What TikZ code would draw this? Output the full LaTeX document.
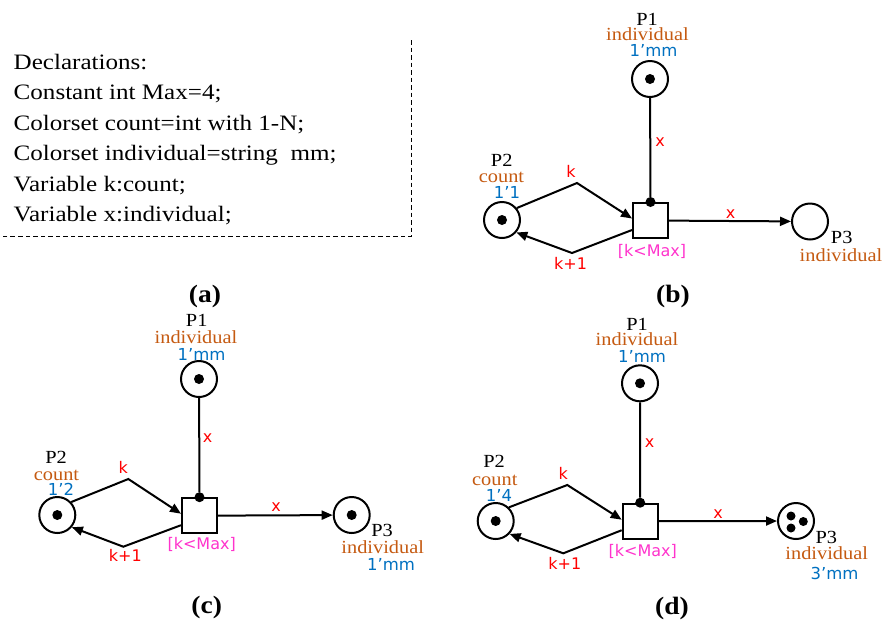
\documentclass[tikz,border=0pt]{standalone}
\usepackage{fontspec}
\setmainfont{Liberation Serif}
\newfontfamily\declf{Liberation Serif}[FakeStretch=1.14]
\newfontfamily\lblf{Liberation Serif}[FakeStretch=1.1]
\newfontfamily\sansf{DejaVu Sans}
\usetikzlibrary{arrows.meta}
\definecolor{brn}{HTML}{C55A11}
\definecolor{blu}{HTML}{0070C0}
\definecolor{redi}{HTML}{FF0000}
\definecolor{magi}{HTML}{FF33CC}
\begin{document}
\begin{tikzpicture}[x=1pt,y=-1pt,
  place/.style={circle,draw,line width=2pt,minimum size=36pt,inner sep=0pt},
  trans/.style={rectangle,draw,line width=2pt,minimum size=35pt,inner sep=0pt},
  token/.style={circle,fill,minimum size=10pt,inner sep=0pt},
  smtoken/.style={circle,fill,minimum size=9pt,inner sep=0pt},
  rdot/.style={circle,fill,minimum size=10pt,inner sep=0pt},
  arcl/.style={line width=2pt},
  arr/.style={line width=2pt,-{Triangle[length=11pt,width=9pt]}},
  pname/.style={inner sep=0pt,anchor=base,text depth=0pt,font=\lblf\fontsize{18.5}{18.5}\selectfont},
  ptype/.style={pname,text=brn},
  pmark/.style={inner sep=0pt,anchor=base,text depth=0pt,font=\sansf\fontsize{16.5}{16.5}\selectfont,text=blu},
  ainsc/.style={inner sep=0pt,anchor=base,font=\sansf\fontsize{16}{16}\selectfont,text=redi},
  guard/.style={ainsc,text=magi},
  decl/.style={inner sep=0pt,anchor=base west,font=\declf\fontsize{22}{22}\selectfont},
  panel/.style={inner sep=0pt,anchor=base,font=\lblf\bfseries\fontsize{25}{25}\selectfont},
  dashbox/.style={line width=1pt,dash pattern=on 4.5pt off 3pt}
]
\useasboundingbox (0,0) rectangle (886,625);

% ---------------- panel (a)
\coordinate (aTR) at (411.5,40);
\coordinate (aBR) at (411.5,236);
\coordinate (aBL) at (0,236);
\draw[dashbox] (aTR) -- (aBR) -- (aBL);
\node[decl] (d1) at (13.5,69.3) {Declarations:};
\node[decl] (d2) at (13.5,99.8) {Constant int Max=4;};
\node[decl] (d3) at (13.5,130.3) {Colorset count=int with 1-N;};
\node[decl] (d4) at (13.5,160.8) {Colorset individual=string\ \ mm;};
\node[decl] (d5) at (13.5,191.3) {Variable k:count;};
\node[decl] (d6) at (13.5,221.8) {Variable x:individual;};
\node[panel] (la) at (205,302) {(a)};

% ---------------- panel (b)
\node[trans] (bT) at (650.5,220.5) {};
\node[place] (b1) at (650,79) {};
\node[token] (b1t) at (650,79) {};
\node[place] (b2) at (502,220) {};
\node[token] (b2t) at (502,220) {};
\node[place] (b3) at (810,221.5) {};
\node[rdot] (bRd) at (bT.north) {};
\draw[arcl] (b1) -- (bRd);
\coordinate (bk) at (577,183);
\coordinate (bk1) at (572,253);
\draw[arr] (b2.39) -- (bk) -- ([yshift=2pt]bT.west);
\draw[arr] ([yshift=-9.5pt]bT.west) -- (bk1) -- (b2.-41);
\draw[arr] (bT) -- (b3);
\node[pname] (bn1) at (647,25) {P1};
\node[ptype] (bty1) at (647.5,40.5) {individual};
\node[pmark] (bm1) at (653.5,56) {1’mm};
\node[pname] (bn2) at (501.7,166.7) {P2};
\node[ptype] (bty2) at (501.5,182.3) {count};
\node[pmark] (bm2) at (507,198.3) {1’1};
\node[pname] (bn3) at (841.7,243.3) {P3};
\node[ptype] (bty3) at (841,261) {individual};
\node[ainsc] (bx1) at (660,146) {x};
\node[ainsc] (bx2) at (730.7,218.5) {x};
\node[ainsc] (bk_l) at (571,177.7) {k};
\node[ainsc] (bk1_l) at (570.5,269) {k+1};
\node[guard] (bg) at (652,256.3) {[k<Max]};
\node[panel] (lb) at (673,302) {(b)};

% ---------------- panel (c)
\node[trans] (cT) at (199.5,515.7) {};
\node[place] (c1) at (199,379) {};
\node[token] (c1t) at (199,379) {};
\node[place] (c2) at (57.3,515) {};
\node[token] (c2t) at (57.3,515) {};
\node[place] (c3) at (351.7,515) {};
\node[token] (c3t) at (351.7,515) {};
\node[rdot] (cRd) at (cT.north) {};
\draw[arcl] (c1) -- (cRd);
\coordinate (ck) at (128.3,479);
\coordinate (ck1) at (123.3,546.7);
\draw[arr] (c2.43) -- (ck) -- ([yshift=2pt]cT.west);
\draw[arr] ([yshift=-9.5pt]cT.west) -- (ck1) -- (c2.-40);
\draw[arr] (cT) -- (c3);
\node[pname] (cn1) at (196.7,326.7) {P1};
\node[ptype] (cty1) at (196,343.3) {individual};
\node[pmark] (cm1) at (201.5,360) {1’mm};
\node[pname] (cn2) at (56,463.3) {P2};
\node[ptype] (cty2) at (56.5,480) {count};
\node[pmark] (cm2) at (61,495.7) {1’2};
\node[pname] (cn3) at (382,536.7) {P3};
\node[ptype] (cty3) at (382.7,553.3) {individual};
\node[pmark] (cm3) at (391,570.7) {1’mm};
\node[ainsc] (cx1) at (207.7,442.7) {x};
\node[ainsc] (cx2) at (276,511.7) {x};
\node[ainsc] (ck_l) at (123.3,473.3) {k};
\node[ainsc] (ck1_l) at (125.3,561.7) {k+1};
\node[guard] (cg) at (201.7,549.3) {[k<Max]};
\node[panel] (lc) at (206.7,613.5) {(c)};

% ---------------- panel (d)
\node[trans] (dT) at (640.2,521.2) {};
\node[place] (e1) at (640,383.3) {};
\node[token] (e1t) at (640,383.3) {};
\node[place] (e2) at (495.7,521) {};
\node[token] (e2t) at (495.7,521) {};
\node[place] (e3) at (796,521) {};
\node[smtoken] (e3a) at (791,516) {};
\node[smtoken] (e3b) at (803.3,521.5) {};
\node[smtoken] (e3c) at (791,528) {};
\node[rdot] (dRd) at (dT.north) {};
\draw[arcl] (e1) -- (dRd);
\coordinate (dk) at (567.3,485);
\coordinate (dk1) at (563.3,553.3);
\draw[arr] (e2.46) -- (dk) -- ([yshift=1.5pt]dT.west);
\draw[arr] ([yshift=-9pt]dT.west) -- (dk1) -- (e2.-43);
\draw[arr] (dT) -- (e3);
\node[pname] (dn1) at (637,330) {P1};
\node[ptype] (dty1) at (637,345.7) {individual};
\node[pmark] (dm1) at (642,362.3) {1’mm};
\node[pname] (dn2) at (494,467.7) {P2};
\node[ptype] (dty2) at (494.8,485) {count};
\node[pmark] (dm2) at (499,501) {1’4};
\node[pname] (dn3) at (826.3,543.3) {P3};
\node[ptype] (dty3) at (826.7,559.3) {individual};
\node[pmark] (dm3) at (834.5,579.3) {3’mm};
\node[ainsc] (dx1) at (649.5,447.3) {x};
\node[ainsc] (dx2) at (718,518.3) {x};
\node[ainsc] (dk_l) at (563.3,479) {k};
\node[ainsc] (dk1_l) at (564.8,569.3) {k+1};
\node[guard] (dg) at (642.8,556) {[k<Max]};
\node[panel] (ld) at (672,614) {(d)};
\end{tikzpicture}
\end{document}
